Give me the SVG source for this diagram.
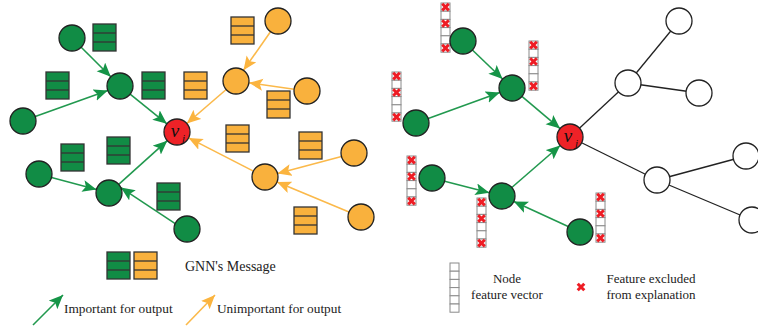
<svg xmlns="http://www.w3.org/2000/svg" xmlns:xlink="http://www.w3.org/1999/xlink" width="758" height="329" viewBox="0 0 758 329">
  <style>
    .g { fill: #118c45; stroke: #222; stroke-width: 1.3; }
    .o { fill: #f9b13d; stroke: #222; stroke-width: 1.3; }
    .r { fill: #ee2227; stroke: #222; stroke-width: 1.3; }
    .w { fill: #fff; stroke: #222; stroke-width: 1.3; }
    .ga { stroke: #22994f; stroke-width: 1.6; fill: none; marker-end: url(#headG); }
    .oa { stroke: #fbb94a; stroke-width: 1.6; fill: none; marker-end: url(#headO); }
    .edge { stroke: #222; stroke-width: 1.3; }
    .msgG rect { fill: #118c45; stroke: #333; stroke-width: 1.3; }
    .msgO rect { fill: #f9b13d; stroke: #333; stroke-width: 1.3; }
    .msg line { stroke: #333; stroke-width: 1.3; }
    .vec rect { fill: #fff; stroke: #8a8a8a; stroke-width: 1; }
    .x { stroke: #ee1c24; stroke-width: 3; fill: none; }
    .lbl { font-family: "Liberation Serif", "Times New Roman", serif; fill: #222; }
    .vj { font-family: "Liberation Serif", "Times New Roman", serif; font-style: italic; fill: #111; }
  </style>
  <defs>
    <marker id="headG" markerUnits="userSpaceOnUse" markerWidth="15" markerHeight="13" refX="14" refY="6" orient="auto">
      <path d="M0,0 L14,6 L0,12 L3,6 z" fill="#159447"/>
    </marker>
    <marker id="headO" markerUnits="userSpaceOnUse" markerWidth="15" markerHeight="13" refX="14" refY="6" orient="auto">
      <path d="M0,0 L14,6 L0,12 L3,6 z" fill="#fbb43f"/>
    </marker>
    <!-- three-row message block -->
    <g id="msgG" class="msg msgG">
      <rect x="0" y="0" width="23" height="27"/>
      <line x1="0" y1="9" x2="23" y2="9"/>
      <line x1="0" y1="18" x2="23" y2="18"/>
    </g>
    <g id="msgO" class="msg msgO">
      <rect x="0" y="0" width="23" height="27"/>
      <line x1="0" y1="9" x2="23" y2="9"/>
      <line x1="0" y1="18" x2="23" y2="18"/>
    </g>
    <!-- six-cell feature vector -->
    <g id="vec" class="vec">
      <rect x="0" y="0" width="9" height="8.2"/>
      <rect x="0" y="8.2" width="9" height="8.2"/>
      <rect x="0" y="16.4" width="9" height="8.2"/>
      <rect x="0" y="24.6" width="9" height="8.2"/>
      <rect x="0" y="32.8" width="9" height="8.2"/>
      <rect x="0" y="41" width="9" height="8.2"/>
    </g>
    <path id="xmark" class="x" d="M-3.3,-3.3 L3.3,3.3 M3.3,-3.3 L-3.3,3.3"/>
    <!-- feature vector with cells 0, 2 and 5 excluded -->
    <g id="vecX">
      <use xlink:href="#vec"/>
      <use xlink:href="#xmark" x="4.5" y="4.1"/>
      <use xlink:href="#xmark" x="4.5" y="20.5"/>
      <use xlink:href="#xmark" x="4.5" y="45.1"/>
    </g>
  </defs>

  <!-- ===== Left panel: message passing ===== -->
  <g id="connectors-left">
    <line class="ga" x1="81.2" y1="47.2" x2="110.8" y2="76.8"/>
    <line class="ga" x1="35.2" y1="116.6" x2="107.8" y2="90.4"/>
    <line class="ga" x1="130.1" y1="94.2" x2="166.9" y2="123.8"/>
    <line class="oa" x1="270.5" y1="31.7" x2="243.5" y2="70.3"/>
    <line class="oa" x1="294.1" y1="89.2" x2="248.9" y2="82.8"/>
    <line class="oa" x1="226.2" y1="89.5" x2="186.8" y2="123.5"/>
    <line class="ga" x1="51.5" y1="177.4" x2="96.5" y2="189.6"/>
    <line class="ga" x1="118.7" y1="184.3" x2="167.3" y2="140.7"/>
    <line class="ga" x1="175.2" y1="223.6" x2="120.8" y2="187.6"/>
    <line class="oa" x1="253.4" y1="171.1" x2="188.6" y2="137.9"/>
    <line class="oa" x1="341.5" y1="156.4" x2="277.5" y2="173.6"/>
    <line class="oa" x1="349" y1="212" x2="277" y2="182"/>
  </g>

  <g id="messages-left">
    <use xlink:href="#msgG" x="93" y="24"/>
    <use xlink:href="#msgG" x="46" y="72"/>
    <use xlink:href="#msgG" x="142" y="72"/>
    <use xlink:href="#msgG" x="61" y="144"/>
    <use xlink:href="#msgG" x="107" y="137"/>
    <use xlink:href="#msgG" x="157" y="183"/>
    <use xlink:href="#msgO" x="231" y="17"/>
    <use xlink:href="#msgO" x="184" y="72"/>
    <use xlink:href="#msgO" x="267" y="91"/>
    <use xlink:href="#msgO" x="226" y="125"/>
    <use xlink:href="#msgO" x="299" y="132"/>
    <use xlink:href="#msgO" x="294" y="207"/>
  </g>

  <g id="nA"><circle class="g" cx="72" cy="38" r="13"/></g>
  <g id="nB"><circle class="g" cx="120" cy="86" r="13"/></g>
  <g id="nC"><circle class="g" cx="23" cy="121" r="13"/></g>
  <g id="nG"><circle class="g" cx="39" cy="174" r="13"/></g>
  <g id="nH"><circle class="g" cx="109" cy="193" r="13"/></g>
  <g id="nI"><circle class="g" cx="187" cy="229" r="13"/></g>
  <g id="nD"><circle class="o" cx="278" cy="21" r="13"/></g>
  <g id="nE"><circle class="o" cx="236" cy="81" r="13"/></g>
  <g id="nF"><circle class="o" cx="307" cy="91" r="13"/></g>
  <g id="nJ"><circle class="o" cx="354" cy="153" r="13"/></g>
  <g id="nK"><circle class="o" cx="265" cy="177" r="13"/></g>
  <g id="nL"><circle class="o" cx="361" cy="217" r="13"/></g>
  <g id="vj-left">
    <circle class="r" cx="177" cy="132" r="13"/>
    <text class="vj" x="175" y="137" font-size="19" text-anchor="middle">v</text>
    <text class="vj" x="182" y="142" font-size="11">j</text>
  </g>

  <!-- legend, left -->
  <g id="legend-left">
    <use xlink:href="#msgG" x="107" y="252"/>
    <use xlink:href="#msgO" x="134" y="252"/>
    <text class="lbl" x="185" y="271" font-size="14">GNN's Message</text>
    <line class="ga" x1="33" y1="325" x2="63" y2="295"/>
    <text class="lbl" x="64" y="313" font-size="13.3">Important for output</text>
    <line class="oa" x1="186" y1="325" x2="215" y2="295"/>
    <text class="lbl" x="217" y="313" font-size="13.3">Unimportant for output</text>
  </g>

  <!-- ===== Right panel: explanation subgraph ===== -->
  <g id="connectors-right">
    <line class="ga" x1="472.4" y1="50" x2="502.6" y2="79"/>
    <line class="ga" x1="428.2" y1="118.6" x2="499.8" y2="92.4"/>
    <line class="ga" x1="521.9" y1="96.4" x2="560.1" y2="128.6"/>
    <line class="ga" x1="444.6" y1="181.2" x2="489.4" y2="192.8"/>
    <line class="ga" x1="511.8" y1="187.5" x2="560.2" y2="145.5"/>
    <line class="ga" x1="568.2" y1="226.6" x2="513.8" y2="201.4"/>
    <line class="edge" x1="570" y1="137" x2="628" y2="83"/>
    <line class="edge" x1="628" y1="83" x2="679" y2="21"/>
    <line class="edge" x1="628" y1="83" x2="699" y2="93"/>
    <line class="edge" x1="570" y1="137" x2="657" y2="180"/>
    <line class="edge" x1="657" y1="180" x2="746" y2="156"/>
    <line class="edge" x1="657" y1="180" x2="752" y2="220"/>
  </g>

  <g id="vectors-right">
    <use xlink:href="#vecX" x="441" y="3"/>
    <use xlink:href="#vecX" x="529" y="41"/>
    <use xlink:href="#vecX" x="392" y="72"/>
    <use xlink:href="#vecX" x="407" y="156"/>
    <use xlink:href="#vecX" x="477" y="198"/>
    <use xlink:href="#vecX" x="596" y="193"/>
  </g>

  <g id="nM"><circle class="g" cx="463" cy="41" r="13"/></g>
  <g id="nN"><circle class="g" cx="512" cy="88" r="13"/></g>
  <g id="nO"><circle class="g" cx="416" cy="123" r="13"/></g>
  <g id="nP"><circle class="g" cx="432" cy="178" r="13"/></g>
  <g id="nQ"><circle class="g" cx="502" cy="196" r="13"/></g>
  <g id="nR"><circle class="g" cx="580" cy="232" r="13"/></g>
  <g id="nS"><circle class="w" cx="679" cy="21" r="13"/></g>
  <g id="nT"><circle class="w" cx="628" cy="83" r="13"/></g>
  <g id="nU"><circle class="w" cx="699" cy="93" r="13"/></g>
  <g id="nV"><circle class="w" cx="657" cy="180" r="13"/></g>
  <g id="nW"><circle class="w" cx="746" cy="156" r="13"/></g>
  <g id="nX"><circle class="w" cx="752" cy="220" r="13"/></g>
  <g id="vj-right">
    <circle class="r" cx="570" cy="137" r="13"/>
    <text class="vj" x="568" y="142" font-size="19" text-anchor="middle">v</text>
    <text class="vj" x="575" y="147" font-size="11">j</text>
  </g>

  <!-- legend, right -->
  <g id="legend-right">
    <use xlink:href="#vec" x="450" y="263"/>
    <text class="lbl" x="507" y="283" font-size="13" text-anchor="middle">Node</text>
    <text class="lbl" x="507" y="299" font-size="13" text-anchor="middle">feature vector</text>
    <use xlink:href="#xmark" x="581" y="287"/>
    <text class="lbl" x="651" y="283" font-size="13" text-anchor="middle">Feature excluded</text>
    <text class="lbl" x="651" y="299" font-size="13" text-anchor="middle">from explanation</text>
  </g>
</svg>
